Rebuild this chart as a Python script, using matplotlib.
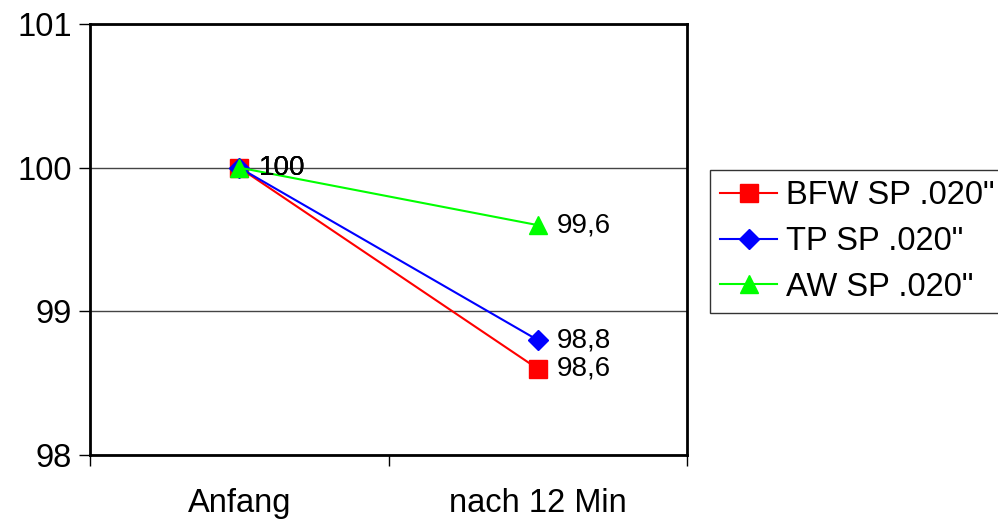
import matplotlib.pyplot as plt

plt.rcParams['font.family'] = ['Liberation Sans', 'DejaVu Sans']

categories = ['Anfang', 'nach 12 Min']
bfw = [100, 98.6]
tp = [100, 98.8]
aw = [100, 99.6]
series_names = ['BFW SP .020"', 'TP SP .020"', 'AW SP .020"']

fig = plt.figure(figsize=(9.98, 5.19), dpi=100)
ax = fig.add_axes([0.0902, 0.1233, 0.5982, 0.8305])

x = [0.5, 1.5]
styles = [('#ff0000', 's', 13), ('#0000ff', 'D', 10), ('#00ff00', '^', 13)]
for vals, name, (col, mk, ms) in zip([bfw, tp, aw], series_names, styles):
    ax.plot(x, vals, color=col, marker=mk, markersize=ms, linewidth=1.5,
            label=name, markeredgecolor=col)
    for xi, v in zip(x, vals):
        txt = f'{v:g}'.replace('.', ',')
        ax.annotate(txt, (xi, v), xytext=(14, 0), textcoords='offset points',
                    va='center', ha='left', fontsize=20)

ax.set_xlim(0, 2)
ax.set_ylim(98, 101)
ax.set_yticks([98, 99, 100, 101])
ax.set_xticks([0, 1, 2])
ax.set_xticklabels([])
ax.set_xticks(x, minor=True)
ax.set_xticklabels(categories, minor=True)
ax.tick_params(axis='x', which='minor', length=0, labelsize=23.5, pad=24)
ax.tick_params(axis='x', which='major', length=8, width=1, color='#000000')
ax.tick_params(axis='y', length=8, width=1, labelsize=23.5, pad=5)
ax.yaxis.grid(True, color='#444444', linewidth=1)
ax.set_axisbelow(True)
for s in ax.spines.values():
    s.set_linewidth(2)
    s.set_color('black')

leg = ax.legend(loc='upper left', bbox_to_anchor=(0.711, 1 - 170 / 519),
                bbox_transform=fig.transFigure, fontsize=23.5, frameon=True,
                fancybox=False, edgecolor='black', handlelength=1.75,
                handletextpad=0.28, borderpad=0.32, labelspacing=0.45,
                borderaxespad=0)
leg.get_frame().set_linewidth(1)

fig.savefig('out.png', dpi=100)
